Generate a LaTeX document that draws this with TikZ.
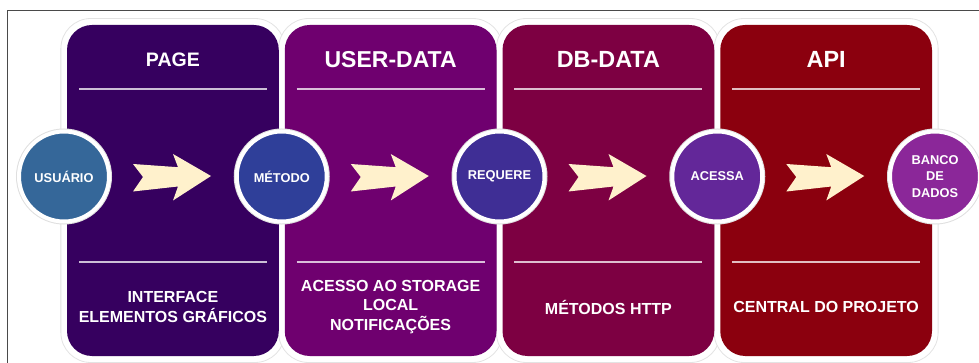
\documentclass[tikz,border=0pt]{standalone}
\usepackage{fontspec}
\setmainfont{Liberation Sans}
\definecolor{pageC}{HTML}{36005F}
\definecolor{userC}{HTML}{6F006F}
\definecolor{dbC}{HTML}{7D0042}
\definecolor{apiC}{HTML}{8B000E}
\definecolor{usuC}{HTML}{356799}
\definecolor{metC}{HTML}{2F3F99}
\definecolor{reqC}{HTML}{3F2E95}
\definecolor{aceC}{HTML}{632799}
\definecolor{banC}{HTML}{8B2799}
\definecolor{arrowC}{HTML}{FFF1CC}
\definecolor{frameC}{HTML}{4A4A4A}
\tikzset{
  halo/.style={rectangle, rounded corners=30pt, fill=white, draw=gray!22, line width=0.8pt,
    minimum width=224pt, minimum height=344pt, inner sep=0pt},
  panel/.style={rectangle, rounded corners=25pt, minimum width=211.75pt, minimum height=331pt, inner sep=0pt},
  rule/.style={draw=white, draw opacity=0.75, line width=1.6pt},
  title/.style={text=white, font=\bfseries\fontsize{#1}{24}\selectfont},
  caption/.style={text=white, font=\bfseries\fontsize{16}{19.5}\selectfont, align=center},
  bubble/.style={circle, minimum size=90pt, inner sep=0pt, draw=white, line width=4pt,
    preaction={draw=gray!25, line width=6pt},
    text=white, font=\bfseries\fontsize{12.8}{16.2}\selectfont, align=center},
  chevron/.style={fill=arrowC, draw=none}
}
\begin{document}
\begin{tikzpicture}[x=1pt, y=-1pt]
\useasboundingbox (0,0) rectangle (979,363);
% outer frame
\draw[frameC, line width=1.2pt] (7.3,363) -- (7.3,10.8) -- (979,10.8);

% panel halos
\foreach \cx in {64, 281.75, 499.5, 717.25}
  \node[halo] at (\cx+108.875, 190.5) {};

% panels
\node[panel, fill=pageC] (p1) at (64+108.875, 190.5) {};
\node[panel, fill=userC] (p2) at (281.75+108.875, 190.5) {};
\node[panel, fill=dbC]   (p3) at (499.5+108.875, 190.5) {};
\node[panel, fill=apiC]  (p4) at (717.25+108.875, 190.5) {};

% separator rules
\foreach \p in {p1, p2, p3, p4} {
  \draw[rule] ([xshift=12pt]\p.west |- 0,89) -- ([xshift=-12pt]\p.east |- 0,89);
  \draw[rule] ([xshift=12pt]\p.west |- 0,262) -- ([xshift=-12pt]\p.east |- 0,262);
}

% titles
\node[title=19.5] (p1-title) at (p1.center |- 0,59.5) {PAGE};
\node[title=23]   (p2-title) at (p2.center |- 0,59.5) {USER-DATA};
\node[title=23.4] (p3-title) at (p3.center |- 0,59.5) {DB-DATA};
\node[title=23.4] (p4-title) at (p4.center |- 0,59.5) {API};

% captions
\node[caption] (p1-text) at (p1.center |- 0,307) {INTERFACE\\ELEMENTOS GRÁFICOS};
\node[caption] (p2-text) at (p2.center |- 0,307) {ACESSO AO STORAGE\\LOCAL\\NOTIFICAÇÕES};
\node[caption] (p3-text) at (p3.center |- 0,307) {MÉTODOS HTTP};
\node[caption] (p4-text) at (p4.center |- 0,307) {CENTRAL DO PROJETO};

% cream arrows inside each panel
\foreach \cx in {64, 281.75, 499.5, 717.25}
  \fill[chevron, shift={(\cx+69,176)}]
    (0,-12) -- (10,1) -- (0,15.5) -- (45,10.5) -- (40,24.5) -- (78,0)
    -- (40,-22) -- (45,-8.8) -- cycle;

% step bubbles
\node[bubble, fill=usuC] (usuario) at (64,176.5) {USUÁRIO};
\node[bubble, fill=metC] (metodo)  at (281.75,176.5) {MÉTODO};
\node[bubble, fill=reqC] (requere) at (499.5,176.5) {REQUERE};
\node[bubble, fill=aceC] (acessa)  at (717.25,176.5) {ACESSA};
\node[bubble, fill=banC] (banco)   at (935,176.5) {BANCO\\DE\\DADOS};
\end{tikzpicture}
\end{document}
